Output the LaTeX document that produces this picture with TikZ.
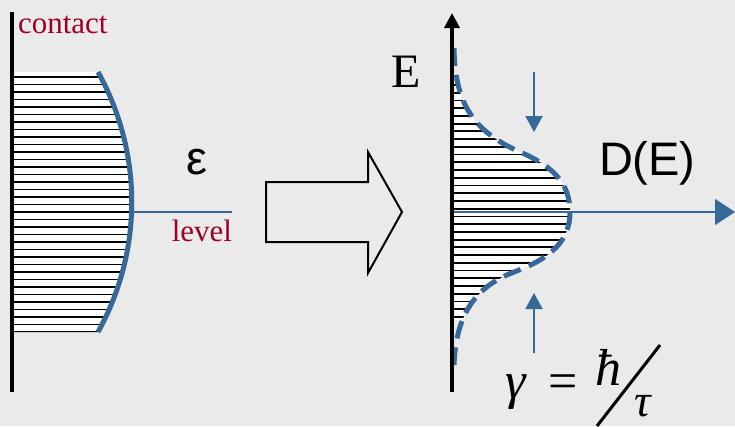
\documentclass[tikz,border=0pt]{standalone}
\usepackage{fontspec}
\setmainfont{Liberation Serif}
\newfontfamily\arialfont{Liberation Sans}
\usetikzlibrary{arrows.meta}
\definecolor{bgray}{RGB}{234,234,234}
\definecolor{lvlblue}{RGB}{54,104,154}
\definecolor{lblred}{RGB}{160,0,40}

\begin{document}
\begin{tikzpicture}[
  x=1pt, y=-1pt,
  every node/.style={inner sep=0pt, outer sep=0pt},
  lbl/.style={text=lblred, font=\fontsize{31}{36}\selectfont},
  serifbig/.style={font=\fontsize{48}{56}\selectfont},
  sansbig/.style={font=\arialfont\fontsize{47}{56}\selectfont},
  formula/.style={font=\fontsize{52}{60}\selectfont},
  hatch/.style={line width=1.8pt, black},
  wall/.style={line width=4pt, black},
  bandedge/.style={line width=5pt, lvlblue},
  thinblue/.style={line width=1.5pt, lvlblue},
  widtharr/.style={line width=2pt, lvlblue, -{Triangle[length=16pt,width=17pt]}}
]
  \useasboundingbox (0,0) rectangle (735,426);
  \clip (0,0) rectangle (735,426);
  \fill[bgray] (0,0) rectangle (735,426);

  % contact with its filled band
  \coordinate (wtop) at (11.5,12);
  \coordinate (wbot) at (11.5,392);
  \coordinate (ctop) at (98,72);
  \coordinate (cbot) at (98,332);
  \begin{scope}
    \clip (13,72) -- (ctop) .. controls (143,153) and (143,251) .. (cbot) -- (13,332) -- cycle;
    \fill[white] (13,72) rectangle (150,332);
    \foreach \y in {0,...,34}
      \draw[hatch] (13,77+7.5*\y) -- (150,77+7.5*\y);
  \end{scope}
  \draw[bandedge] (ctop) .. controls (143,153) and (143,251) .. (cbot);
  \draw[wall] (wtop) -- (wbot);

  \coordinate (lvl) at (131.5,212);
  \coordinate (lvlend) at (232,212);
  \draw[thinblue] (lvl) -- (lvlend);

  \node[lbl, anchor=base west] (contact) at (18,33) {contact};
  \node[lbl, anchor=base east] (level) at (232,241) {level};
  \node[sansbig, anchor=base west] (eps) at (186,174) {ε};

  % block arrow
  \draw[line width=2pt, line join=miter] (266,182) -- (368,182) -- (368,152) -- (402,212)
    -- (368,273) -- (368,242) -- (266,242) -- cycle;

  % broadened level
  \coordinate (axbot) at (452,392);
  \coordinate (axtop) at (452,13);
  \coordinate (axorig) at (452,212);
  \coordinate (axend) at (735,212);
  \coordinate (dtop) at (454,48);
  \coordinate (dbot) at (454,365);
  \coordinate (peak) at (570,212);
  \begin{scope}
    \clip (dtop) .. controls (455,100) and (470,130) .. (520,152)
      .. controls (555,167) and (570,185) .. (peak)
      .. controls (570,240) and (552,258) .. (514,272)
      .. controls (472,288) and (456,318) .. (dbot) -- cycle;
    \fill[white] (452,82) rectangle (575,320);
    \foreach \y in {0,...,30}
      \draw[hatch] (452,85+7.73*\y) -- (575,85+7.73*\y);
  \end{scope}
  \draw[bandedge, dash pattern=on 18pt off 9pt] (dtop) .. controls (455,100) and (470,130) .. (520,152)
    .. controls (555,167) and (570,185) .. (peak)
    .. controls (570,240) and (552,258) .. (514,272)
    .. controls (472,288) and (456,318) .. (dbot);

  \draw[thinblue, -{Triangle[length=20pt,width=26pt]}] (axorig) -- (axend);
  \draw[wall, -{Triangle[length=15pt,width=15pt]}] (axbot) -- (axtop);

  \coordinate (wa1) at (534,72);
  \coordinate (wa2) at (534,132);
  \coordinate (wb1) at (534,353);
  \coordinate (wb2) at (534,293);
  \draw[widtharr] (wa1) -- (wa2);
  \draw[widtharr] (wb1) -- (wb2);

  \node[serifbig, anchor=base west] (elabel) at (391,87) {E};
  \node[sansbig, anchor=base west] (dos) at (599,175) {D(E)};

  \node[formula, anchor=base west] (gam) at (505,398) {\textit{γ}\hspace{22pt}=};
  \node[formula, anchor=base west] (hb) at (595,385) {\textit{ħ}};
  \node[formula, font=\fontsize{46}{56}\selectfont, anchor=base west] (tau) at (634,416) {\textit{τ}};
  \coordinate (sltop) at (660,345);
  \coordinate (slbot) at (597,426);
  \draw[line width=3pt] (sltop) -- (slbot);
\end{tikzpicture}
\end{document}
